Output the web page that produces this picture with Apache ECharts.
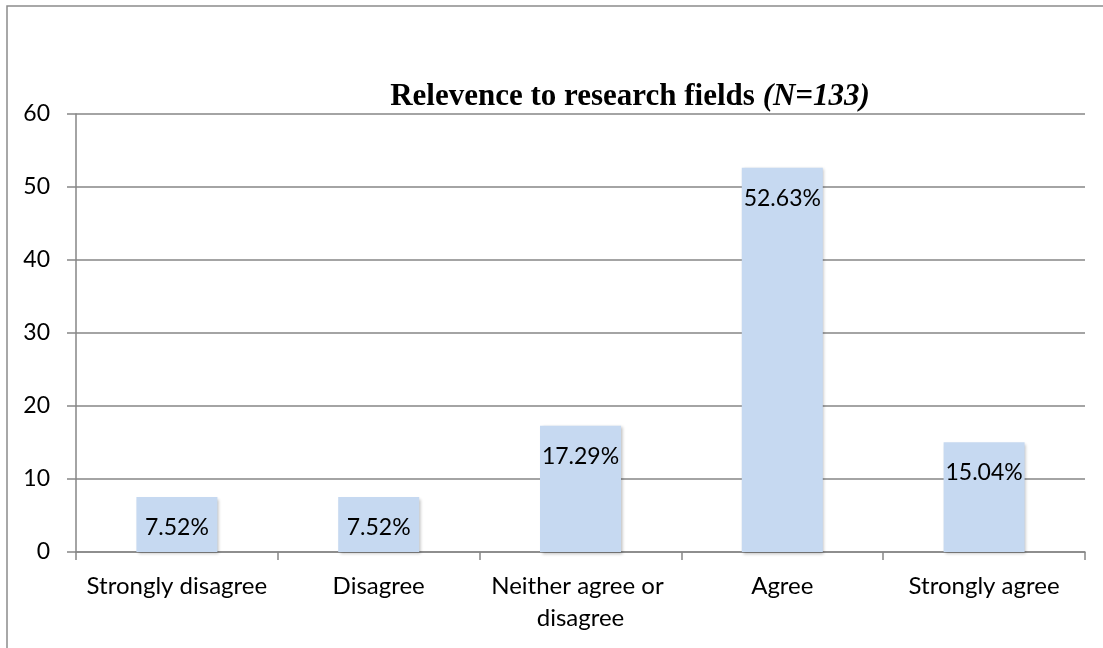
<!DOCTYPE html>
<html>
<head>
<meta charset="utf-8">
<script src="https://cdn.jsdelivr.net/npm/echarts@6/dist/echarts.min.js"></script>
<style>html,body{margin:0;padding:0;background:#fff}#c{width:1103px;height:648px}</style>
</head>
<body>
<div id="c"></div>
<script>
const categories = ['Strongly disagree', 'Disagree', 'Neither agree or disagree', 'Agree', 'Strongly agree'];
const values = [7.52, 7.52, 17.29, 52.63, 15.04];
const yTicks = [0, 10, 20, 30, 40, 50, 60];

const chart = echarts.init(document.getElementById('c'), null, {renderer: 'canvas'});
const font = 'Lato';
chart.setOption({
  animation: false,
  backgroundColor: '#fff',
  title: {
    text: '{b|Relevence to research fields }{i|(N=133)}',
    left: 625,
    top: 76,
    textAlign: 'center',
    textStyle: {
      rich: {
        b: {fontFamily: 'Liberation Serif', fontWeight: 'bold', fontSize: 31, color: '#000'},
        i: {fontFamily: 'Liberation Serif', fontWeight: 'bold', fontStyle: 'italic', fontSize: 31, color: '#000'}
      }
    }
  },
  graphic: [{
    type: 'rect',
    shape: {x: 7, y: 6, width: 1200, height: 800},
    style: {fill: 'none', stroke: '#8c8c8c', lineWidth: 1.5},
    silent: true
  }],
  grid: {left: 76, right: 18, top: 114, bottom: 96, containLabel: false},
  xAxis: {
    type: 'category',
    data: categories,
    axisLine: {lineStyle: {color: '#868686', width: 1.5}},
    axisTick: {show: true, length: 8, lineStyle: {color: '#868686', width: 1.5}},
    axisLabel: {
      color: '#000', fontFamily: font, fontSize: 24, margin: 18,
      width: 190, overflow: 'break', lineHeight: 32, interval: 0
    }
  },
  yAxis: {
    type: 'value',
    min: yTicks[0],
    max: yTicks[yTicks.length - 1],
    interval: 10,
    axisLine: {show: true, lineStyle: {color: '#868686', width: 1.5}},
    axisTick: {show: true, length: 9, lineStyle: {color: '#868686', width: 1.5}},
    splitLine: {show: true, lineStyle: {color: '#868686', width: 1.5}},
    axisLabel: {color: '#000', fontFamily: font, fontSize: 23, margin: 26}
  },
  series: [{
    type: 'bar',
    data: values,
    barWidth: 81,
    itemStyle: {
      color: '#c6d9f1',
      shadowColor: 'rgba(0,0,0,0.25)',
      shadowBlur: 3,
      shadowOffsetX: 1.5,
      shadowOffsetY: 1.5
    },
    label: {
      show: true,
      position: 'insideTop',
      distance: 19,
      formatter: p => p.value.toFixed(2) + '%',
      color: '#000',
      fontFamily: font,
      fontSize: 23
    }
  }]
});
</script>
</body>
</html>
